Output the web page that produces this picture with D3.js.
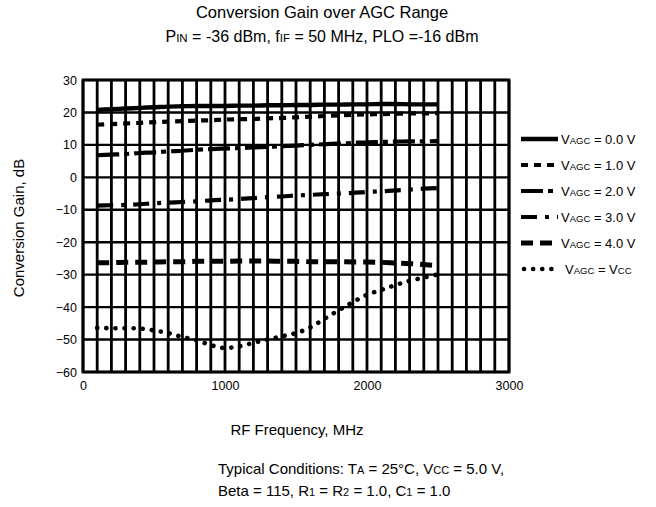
<!DOCTYPE html>
<html><head><meta charset="utf-8">
<script src="https://cdn.jsdelivr.net/npm/d3@7"></script>
<style>body{margin:0;background:#fff}text{font-family:"Liberation Sans",Arial,sans-serif;fill:#000}</style>
</head><body>
<svg id="c" width="656" height="507"></svg>
<script>
const freqs = [100,200,300,400,500,600,700,800,900,1000,1100,1200,1300,1400,1500,1600,1700,1800,1900,2000,2100,2200,2300,2400,2500];
const gainV0 = [20.8,21.0,21.2,21.4,21.6,21.8,21.9,22.0,22.0,22.0,22.1,22.1,22.2,22.2,22.3,22.3,22.4,22.4,22.5,22.5,22.6,22.6,22.5,22.5,22.5];
const gainV1 = [16.2,16.4,16.6,16.8,17.0,17.2,17.3,17.5,17.6,17.8,17.9,18.0,18.2,18.3,18.5,18.7,18.9,19.1,19.3,19.4,19.5,19.6,19.7,19.7,19.8];
const gainV2 = [6.8,7.0,7.2,7.5,7.7,8.0,8.2,8.5,8.7,8.9,9.0,9.2,9.4,9.6,9.8,10.0,10.2,10.4,10.6,10.8,10.9,11.0,11.1,11.1,11.2];
const gainV3 = [-8.7,-8.6,-8.5,-8.3,-8.0,-7.8,-7.6,-7.4,-7.1,-6.9,-6.7,-6.4,-6.1,-5.9,-5.6,-5.4,-5.2,-5.0,-4.8,-4.5,-4.3,-4.0,-3.8,-3.5,-3.3];
const gainV4 = [-26.3,-26.3,-26.2,-26.2,-26.1,-26.0,-26.0,-25.9,-25.9,-25.9,-25.8,-25.8,-25.8,-25.9,-25.9,-26.0,-26.0,-26.0,-26.1,-26.1,-26.2,-26.4,-26.6,-26.9,-27.3];
const gainVcc = [-46.4,-46.5,-46.5,-46.6,-47.2,-48.0,-49.2,-50.2,-51.7,-52.6,-52.1,-51.0,-50.0,-49.0,-48.0,-46.3,-43.6,-41.0,-38.5,-36.2,-34.7,-33.2,-31.9,-30.9,-29.9];
const seriesLabels = ["0.0 V","1.0 V","2.0 V","3.0 V","4.0 V","Vcc"];
const xTicks = [0,1000,2000,3000];
const yTicks = [30,20,10,0,-10,-20,-30,-40,-50,-60];

const series = [gainV0,gainV1,gainV2,gainV3,gainV4,gainVcc];
const styles = [
  {dash:null,w:4.4,cap:"butt"},
  {dash:"7,6",w:4.2,cap:"butt"},
  {dash:"22,5,5,5",w:4.2,cap:"butt"},
  {dash:"16,8,4,8",w:4.2,cap:"butt"},
  {dash:"12,7",w:5,cap:"butt"},
  {dash:"0.1,9",w:4.6,cap:"round"}
];

const svg = d3.select("#c");
const L=83,R=509,T=80,B=372;
const x = d3.scaleLinear().domain([0,3000]).range([L,R]);
const y = d3.scaleLinear().domain([-60,30]).range([B,T]);

// grid
const g = svg.append("g");
g.selectAll("line.v").data(d3.range(0,3001,100)).enter().append("line")
  .attr("x1",d=>x(d)).attr("x2",d=>x(d)).attr("y1",T).attr("y2",B)
  .attr("stroke","#000").attr("stroke-width",2.8);
g.selectAll("line.h").data(d3.range(-60,31,10)).enter().append("line")
  .attr("x1",L).attr("x2",R).attr("y1",d=>y(d)).attr("y2",d=>y(d))
  .attr("stroke","#000").attr("stroke-width",2.4);
g.append("rect").attr("x",L).attr("y",T).attr("width",R-L).attr("height",B-T)
  .attr("fill","none").attr("stroke","#000").attr("stroke-width",2.8);

// axes labels via d3 axes
const yAxis = svg.append("g").attr("transform",`translate(${L},0)`)
  .call(d3.axisLeft(y).tickValues(yTicks).tickSize(0).tickPadding(6).tickFormat(d3.format("d")));
yAxis.select(".domain").remove();
yAxis.selectAll("text").style("font-size","12.5px").style("font-family","Liberation Sans, Arial, sans-serif");
const xAxis = svg.append("g").attr("transform",`translate(0,${B})`)
  .call(d3.axisBottom(x).tickValues(xTicks).tickSize(0).tickPadding(9).tickFormat(d3.format("d")));
xAxis.select(".domain").remove();
xAxis.selectAll("text").style("font-size","12.5px").style("font-family","Liberation Sans, Arial, sans-serif");

// series
const line = d3.line().x((d,i)=>x(freqs[i])).y(d=>y(d)).curve(d3.curveMonotoneX);
series.forEach((s,k)=>{
  const st=styles[k];
  svg.append("path").datum(s).attr("d",line).attr("fill","none")
    .attr("stroke","#000").attr("stroke-width",st.w)
    .attr("stroke-dasharray",st.dash).attr("stroke-linecap",st.cap);
});

// legend
const lg = svg.append("g");
seriesLabels.forEach((lab,k)=>{
  const yy = 139 + k*26;
  const st=styles[k];
  lg.append("line").attr("x1",k===5?524:521).attr("x2",558).attr("y1",yy).attr("y2",yy)
    .attr("stroke","#000").attr("stroke-width",st.w)
    .attr("stroke-dasharray",st.dash).attr("stroke-linecap",st.cap);
  const t = lg.append("text").attr("x",k===5?565:561).attr("y",yy+5).style("font-size","13px");
  t.append("tspan").text("V");
  t.append("tspan").text("AGC").style("font-size","9.5px");
  if(k<5){ t.append("tspan").text(" = "+lab); }
  else { t.append("tspan").text(" = V"); t.append("tspan").text("CC").style("font-size","9.5px"); }
});

// titles
svg.append("text").attr("x",322).attr("y",18).attr("text-anchor","middle").style("font-size","16.5px")
  .text("Conversion Gain over AGC Range");
const t2 = svg.append("text").attr("x",322).attr("y",42).attr("text-anchor","middle").style("font-size","16px");
t2.append("tspan").text("P");
t2.append("tspan").text("IN").style("font-size","11.5px");
t2.append("tspan").text(" = -36 dBm, f");
t2.append("tspan").text("IF").style("font-size","11.5px");
t2.append("tspan").text(" = 50 MHz, PLO =-16 dBm");

svg.append("text").attr("transform","translate(24,228) rotate(-90)").attr("text-anchor","middle")
  .style("font-size","15px").text("Conversion Gain, dB");
svg.append("text").attr("x",297).attr("y",435).attr("text-anchor","middle").style("font-size","15px")
  .text("RF Frequency, MHz");

const c1 = svg.append("text").attr("x",218).attr("y",474).style("font-size","15px");
c1.append("tspan").text("Typical Conditions: T");
c1.append("tspan").text("A").style("font-size","11px");
c1.append("tspan").text(" = 25°C, V");
c1.append("tspan").text("CC").style("font-size","11px");
c1.append("tspan").text(" = 5.0 V,");
const c2 = svg.append("text").attr("x",218).attr("y",496).style("font-size","15px");
c2.append("tspan").text("Beta = 115, R");
c2.append("tspan").text("1").style("font-size","11px");
c2.append("tspan").text(" = R");
c2.append("tspan").text("2").style("font-size","11px");
c2.append("tspan").text(" = 1.0, C");
c2.append("tspan").text("1").style("font-size","11px");
c2.append("tspan").text(" = 1.0");
</script>
</body></html>
